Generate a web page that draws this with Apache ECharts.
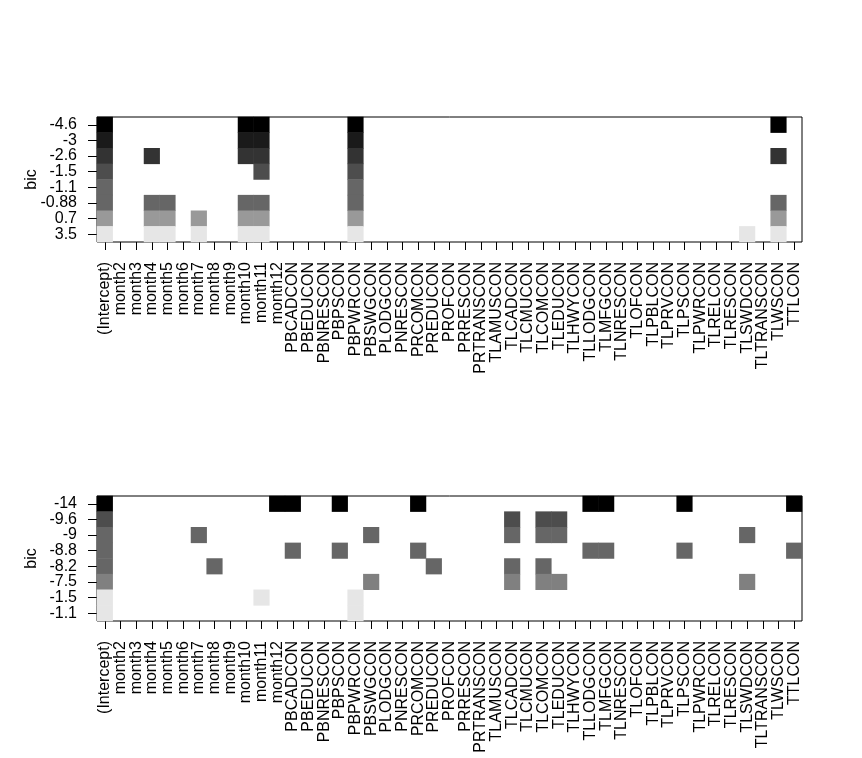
<!DOCTYPE html>
<html><head><meta charset="utf-8">
<script src="https://cdn.jsdelivr.net/npm/echarts@6/dist/echarts.min.js"></script>
<style>html,body{margin:0;padding:0;background:#fff}#c{width:862px;height:758px}</style>
</head><body><div id="c"></div>
<script>
const variables = ['(Intercept)','month2','month3','month4','month5','month6','month7','month8','month9','month10','month11','month12',
  'PBCADCON','PBEDUCON','PBNRESCON','PBPSCON','PBPWRCON','PBSWGCON','PLODGCON','PNRESCON','PRCOMCON','PREDUCON','PROFCON','PRRESCON','PRTRANSCON',
  'TLAMUSCON','TLCADCON','TLCMUCON','TLCOMCON','TLEDUCON','TLHWYCON','TLLODGCON','TLMFGCON','TLNRESCON','TLOFCON','TLPBLCON','TLPRVCON','TLPSCON',
  'TLPWRCON','TLRELCON','TLRESCON','TLSWDCON','TLTRANSCON','TLWSCON','TTLCON'];

const bicTop = [-4.6, -3.0, -2.6, -1.5, -1.1, -0.88, 0.7, 3.5];
const bicTopLabels = ['-4.6','-3','-2.6','-1.5','-1.1','-0.88','0.7','3.5'];
const modelsTop = [
  ['(Intercept)','month10','month11','PBPWRCON','TLWSCON'],
  ['(Intercept)','month10','month11','PBPWRCON'],
  ['(Intercept)','month4','month10','month11','PBPWRCON','TLWSCON'],
  ['(Intercept)','month11','PBPWRCON'],
  ['(Intercept)','PBPWRCON'],
  ['(Intercept)','month4','month5','month10','month11','PBPWRCON','TLWSCON'],
  ['(Intercept)','month4','month5','month7','month10','month11','PBPWRCON','TLWSCON'],
  ['(Intercept)','month4','month5','month7','month10','month11','PBPWRCON','TLSWDCON','TLWSCON']
];

const bicBottom = [-14.4, -9.6, -9.0, -8.8, -8.2, -7.5, -1.5, -1.1];
const bicBottomLabels = ['-14','-9.6','-9','-8.8','-8.2','-7.5','-1.5','-1.1'];
const modelsBottom = [
  ['(Intercept)','month12','PBCADCON','PBPSCON','PRCOMCON','TLLODGCON','TLMFGCON','TLPSCON','TTLCON'],
  ['(Intercept)','TLCADCON','TLCOMCON','TLEDUCON'],
  ['(Intercept)','month7','PBSWGCON','TLCADCON','TLCOMCON','TLEDUCON','TLSWDCON'],
  ['(Intercept)','PBCADCON','PBPSCON','PRCOMCON','TLLODGCON','TLMFGCON','TLPSCON','TTLCON'],
  ['(Intercept)','month8','PREDUCON','TLCADCON','TLCOMCON'],
  ['(Intercept)','PBSWGCON','TLCADCON','TLCOMCON','TLEDUCON','TLSWDCON'],
  ['(Intercept)','month11','PBPWRCON'],
  ['(Intercept)','PBPWRCON']
];

const FONT = '"Liberation Sans", Arial, sans-serif';
const FS = 16;

function cells(models, bic) {
  const out = [];
  models.forEach((m, r) => m.forEach(v => out.push([variables.indexOf(v), r, bic[r]])));
  return out;
}
function grayHex(level) {
  const n = Math.round(level * 255);
  const h = n.toString(16).padStart(2, '0');
  return '#' + h + h + h;
}
function pieces(bic) {
  const mn = Math.min(...bic), mx = Math.max(...bic), w = (mx - mn) / 10;
  const p = [];
  for (let i = 0; i < 10; i++) {
    const piece = { gte: mn + i * w, color: grayHex(i * 0.1) };
    if (i < 9) piece.lt = mn + (i + 1) * w; else piece.lte = mx + 1e-9;
    p.push(piece);
  }
  return p;
}

const grids = [
  { left: 97, top: 117, width: 705, height: 125 },
  { left: 97, top: 496, width: 705, height: 125 }
];

function xAxis(gi) {
  return {
    type: 'category', gridIndex: gi, data: variables,
    axisLine: { show: false },
    axisTick: { show: true, alignWithLabel: true, length: 8, lineStyle: { color: '#000' } },
    axisLabel: { interval: 0, rotate: 90, margin: 20, color: '#000', fontFamily: FONT, fontSize: FS },
    splitLine: { show: false }
  };
}
function yAxis(gi, labels) {
  return {
    type: 'category', gridIndex: gi, data: labels, inverse: true,
    name: 'bic', nameLocation: 'middle', nameRotate: 90, nameGap: 57, nameMoveOverlap: false,
    nameTextStyle: { color: '#000', fontFamily: FONT, fontSize: FS },
    axisLine: { show: false },
    axisTick: { show: true, alignWithLabel: true, length: 9, lineStyle: { color: '#000' } },
    axisLabel: { interval: 0, margin: 20, color: '#000', fontFamily: FONT, fontSize: FS },
    splitLine: { show: false }
  };
}

const chart = echarts.init(document.getElementById('c'), null, { renderer: 'canvas' });
chart.setOption({
  backgroundColor: '#fff',
  animation: false,
  grid: grids.map(g => Object.assign({ show: true, borderColor: '#000', borderWidth: 1, backgroundColor: 'transparent' }, g)),
  xAxis: [xAxis(0), xAxis(1)],
  yAxis: [yAxis(0, bicTopLabels), yAxis(1, bicBottomLabels)],
  visualMap: [
    { type: 'piecewise', show: false, seriesIndex: 0, dimension: 2, pieces: pieces(bicTop) },
    { type: 'piecewise', show: false, seriesIndex: 1, dimension: 2, pieces: pieces(bicBottom) }
  ],
  series: [
    { type: 'heatmap', xAxisIndex: 0, yAxisIndex: 0, data: cells(modelsTop, bicTop), itemStyle: { borderWidth: 0 }, emphasis: { disabled: true } },
    { type: 'heatmap', xAxisIndex: 1, yAxisIndex: 1, data: cells(modelsBottom, bicBottom), itemStyle: { borderWidth: 0 }, emphasis: { disabled: true } }
  ]
});
</script></body></html>
